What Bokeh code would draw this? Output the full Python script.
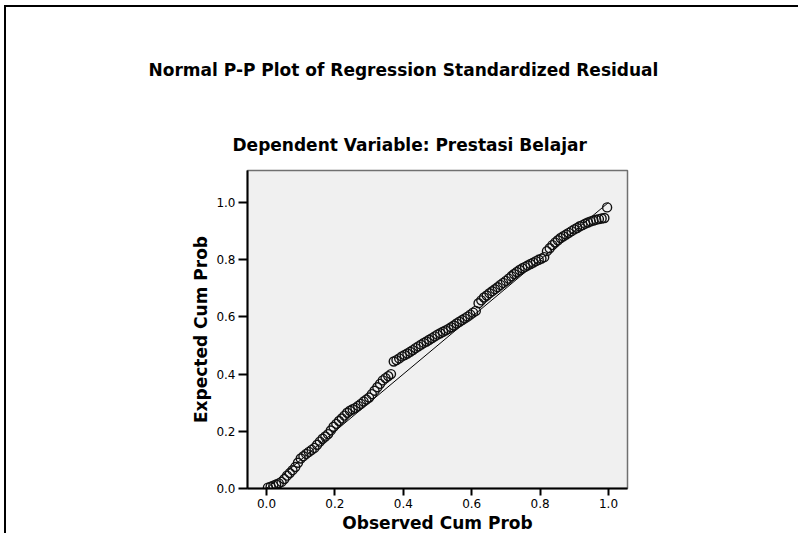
from bokeh.plotting import figure
from bokeh.models import Title, Range1d, FixedTicker, NumeralTickFormatter
from bokeh.embed import file_html
from bokeh.resources import INLINE

title_text = "Normal P-P Plot of Regression Standardized Residual"
subtitle_text = "Dependent Variable: Prestasi Belajar"
x_label = "Observed Cum Prob"
y_label = "Expected Cum Prob"
tick_values = [0.0, 0.2, 0.4, 0.6, 0.8, 1.0]

observed = [0.004, 0.012, 0.020, 0.028, 0.036, 0.044, 0.052, 0.060, 0.068, 0.076,
            0.084, 0.092, 0.100, 0.108, 0.116, 0.124, 0.132, 0.140, 0.148, 0.156,
            0.164, 0.172, 0.180, 0.188, 0.196, 0.204, 0.212, 0.220, 0.228, 0.236,
            0.244, 0.252, 0.260, 0.268, 0.276, 0.284, 0.292, 0.300, 0.308, 0.316,
            0.324, 0.332, 0.340, 0.348, 0.356, 0.364, 0.372, 0.380, 0.388, 0.396,
            0.404, 0.412, 0.420, 0.428, 0.436, 0.444, 0.452, 0.460, 0.468, 0.476,
            0.484, 0.492, 0.500, 0.508, 0.516, 0.524, 0.532, 0.540, 0.548, 0.556,
            0.564, 0.572, 0.580, 0.588, 0.596, 0.604, 0.612, 0.620, 0.628, 0.636,
            0.644, 0.652, 0.660, 0.668, 0.676, 0.684, 0.692, 0.700, 0.708, 0.716,
            0.724, 0.732, 0.740, 0.748, 0.756, 0.764, 0.772, 0.780, 0.788, 0.796,
            0.804, 0.812, 0.820, 0.828, 0.836, 0.844, 0.852, 0.860, 0.868, 0.876,
            0.884, 0.892, 0.900, 0.908, 0.916, 0.924, 0.932, 0.940, 0.948, 0.956,
            0.964, 0.972, 0.980, 0.988, 0.996]
expected = [0.003, 0.006, 0.010, 0.014, 0.018, 0.023, 0.033, 0.045, 0.054, 0.064,
            0.075, 0.090, 0.105, 0.113, 0.121, 0.128, 0.135, 0.142, 0.153, 0.164,
            0.174, 0.182, 0.190, 0.203, 0.216, 0.226, 0.236, 0.245, 0.255, 0.265,
            0.272, 0.277, 0.282, 0.289, 0.296, 0.304, 0.311, 0.318, 0.330, 0.342,
            0.354, 0.366, 0.378, 0.386, 0.393, 0.400, 0.444, 0.449, 0.455, 0.462,
            0.467, 0.472, 0.478, 0.484, 0.491, 0.497, 0.503, 0.509, 0.514, 0.520,
            0.526, 0.532, 0.538, 0.543, 0.548, 0.553, 0.558, 0.564, 0.570, 0.577,
            0.583, 0.589, 0.595, 0.601, 0.608, 0.615, 0.621, 0.648, 0.658, 0.668,
            0.675, 0.683, 0.690, 0.697, 0.704, 0.712, 0.719, 0.726, 0.734, 0.742,
            0.750, 0.757, 0.764, 0.770, 0.775, 0.780, 0.785, 0.790, 0.795, 0.800,
            0.804, 0.809, 0.830, 0.840, 0.851, 0.860, 0.868, 0.876, 0.882, 0.888,
            0.894, 0.900, 0.906, 0.911, 0.917, 0.921, 0.926, 0.930, 0.934, 0.937,
            0.940, 0.942, 0.944, 0.946, 0.983]
ref_x = [0.0, 1.0]
ref_y = [0.0, 1.0]

# layout (pixels, relative to the canvas)
W, H = 794, 528
F_LEFT, F_RIGHT, F_TOP, F_BOTTOM = 241, 173, 163, 47
X0, X1 = -0.0556, 1.0556
Y0, Y1 = 0.0, 1.112

p = figure(width=W, height=H, x_range=Range1d(X0, X1), y_range=Range1d(Y0, Y1),
           output_backend="svg", toolbar_location=None,
           min_border_left=F_LEFT, min_border_right=F_RIGHT,
           min_border_top=F_TOP, min_border_bottom=F_BOTTOM,
           background_fill_color="#f0f0f0", border_fill_color="white",
           outline_line_color="#707070", outline_line_width=1.5,
           styles={"border-top": "2px solid black", "border-left": "2px solid black",
                   "margin-top": "5px", "margin-left": "4px"})
p.grid.visible = False

for ax in (p.xaxis[0], p.yaxis[0]):
    ax.ticker = FixedTicker(ticks=tick_values)
    ax.formatter = NumeralTickFormatter(format="0.0")
    ax.axis_line_color = "black"
    ax.axis_line_width = 2
    ax.major_tick_line_color = "black"
    ax.major_tick_line_width = 2
    ax.major_tick_in = 0
    ax.minor_tick_in = 0
    ax.minor_tick_out = 0
    ax.major_label_text_font = "DejaVu Sans"
    ax.major_label_text_font_size = "12px"
    ax.major_label_text_color = "black"
    ax.axis_label_text_font = "DejaVu Sans"
    ax.axis_label_text_font_style = "bold"
    ax.axis_label_text_color = "black"
    ax.axis_label_text_font_size = "17px"

p.xaxis.major_tick_out = 7
p.yaxis.major_tick_out = 9
p.xaxis.major_label_standoff = 3
p.yaxis.major_label_standoff = 3
p.xaxis.axis_label = x_label
p.yaxis.axis_label = y_label
p.xaxis.axis_label_standoff = 2
p.yaxis.axis_label_standoff = 2

p.line(ref_x, ref_y, line_color="black", line_width=1)
p.scatter(observed, expected, marker="circle", size=9, fill_color=None,
          line_color="#111111", line_width=1.4)

p.add_layout(Title(text=subtitle_text, align="left", text_font="DejaVu Sans",
                   text_font_style="bold", text_font_size="17px",
                   text_color="black", standoff=32, offset=-15), "above")
p.add_layout(Title(text=title_text, align="left", text_font="DejaVu Sans",
                   text_font_style="bold", text_font_size="17px",
                   text_color="black", standoff=74, offset=-99), "above")

open("out.html", "w").write(file_html(p, INLINE))
